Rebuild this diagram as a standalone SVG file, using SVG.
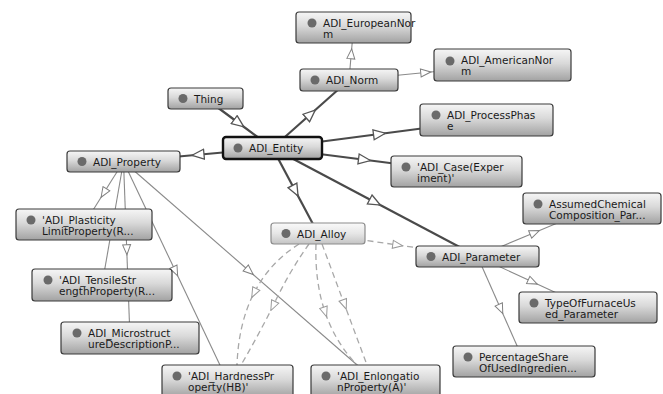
<svg xmlns="http://www.w3.org/2000/svg" width="663" height="394" viewBox="0 0 663 394">
<defs>
<linearGradient id="g" x1="0" y1="0" x2="0" y2="1">
<stop offset="0" stop-color="#f6f6f6"/>
<stop offset="0.45" stop-color="#d9d9d9"/>
<stop offset="1" stop-color="#a2a2a2"/>
</linearGradient>
<linearGradient id="gl" x1="0" y1="0" x2="0" y2="1">
<stop offset="0" stop-color="#fafafa"/>
<stop offset="0.5" stop-color="#e6e6e6"/>
<stop offset="1" stop-color="#c4c4c4"/>
</linearGradient>
<marker id="big" viewBox="0 0 14 12" markerWidth="14" markerHeight="12" refX="7" refY="6" orient="auto" markerUnits="userSpaceOnUse">
<path d="M1,1 L13,6 L1,11 Z" fill="#fff" stroke="#555" stroke-width="1.3"/>
</marker>
<marker id="small" viewBox="0 0 12 10" markerWidth="12" markerHeight="10" refX="6" refY="5" orient="auto" markerUnits="userSpaceOnUse">
<path d="M1,1 L11,5 L1,9 Z" fill="#fff" stroke="#808080" stroke-width="1"/>
</marker>
<marker id="dash" viewBox="0 0 12 10" markerWidth="12" markerHeight="10" refX="6" refY="5" orient="auto" markerUnits="userSpaceOnUse">
<path d="M1,1 L11,5 L1,9 Z" fill="#fff" stroke="#9a9a9a" stroke-width="1"/>
</marker>
</defs>
<style>
.thick{fill:none;stroke:#4a4a4a;stroke-width:2.2;marker-mid:url(#big)}
.thin{fill:none;stroke:#8a8a8a;stroke-width:1.1;marker-mid:url(#small)}
.dsh{fill:none;stroke:#a8a8a8;stroke-width:1.3;stroke-dasharray:6 4;marker-mid:url(#dash)}
.box{fill:url(#g);stroke:#3a3a3a;stroke-width:1.2}
.pale{fill:url(#gl);stroke:#8c8c8c;stroke-width:1.2}
.sel{fill:url(#g);stroke:#111;stroke-width:2.4}
.dot{fill:#6a6a6a}
text{font-family:"DejaVu Sans","Liberation Sans",sans-serif;font-size:10.5px;fill:#1a1a1a}
</style>
<rect width="663" height="394" fill="#fff"/>
<g id="connectors">
<path class="thick" d="M205.5,98.5 L239,123.25 L272.5,148"/>
<path class="thick" d="M272.5,148 L310.75,114 L349,80"/>
<path class="thick" d="M272.5,148 L379.5,134 L486.5,120"/>
<path class="thick" d="M272.5,148 L364.5,159.75 L456.5,171.5"/>
<path class="thick" d="M272.5,148 L198,154.75 L123.5,161.5"/>
<path class="thick" d="M272.5,148 L295.25,190.75 L318,233.5"/>
<path class="thick" d="M272.5,148 L375,202.25 L477.5,256.5"/>
<path class="thin" d="M349,80 L351.25,53.75 L353.5,27.5"/>
<path class="thin" d="M349,80 L425.75,72.5 L502.5,65"/>
<path class="thin" d="M123.5,161.5 L103.75,193 L84,224.5"/>
<path class="thin" d="M123.5,161.5 L112.75,223.25 L102,285"/>
<path class="thin" d="M123.5,161.5 L126.75,249.75 L130,338"/>
<path class="thin" d="M123.5,161.5 L175.5,271.25 L227.5,381"/>
<path class="thin" d="M123.5,161.5 L249.5,271.25 L375.5,381"/>
<path class="thin" d="M477.5,256.5 L534.75,232.5 L592,208.5"/>
<path class="thin" d="M477.5,256.5 L532.75,282 L588,307.5"/>
<path class="thin" d="M477.5,256.5 L500.75,309 L524,361.5"/>
<path class="dsh" d="M318,233.5 L397.75,245 L477.5,256.5"/>
<path class="dsh" d="M299,244 Q269.5,262.75 254,293 Q238.5,323.25 237,365"/>
<path class="dsh" d="M309,244 Q289,272 273,306 Q258,336 241,365"/>
<path class="dsh" d="M316,244 Q314.75,281.75 325,312 Q335.25,342.25 357,365"/>
<path class="dsh" d="M322,244 L344.5,304.5 L367,365"/>
</g>
<g id="n-european"><rect class="box" x="296" y="12" width="115" height="31" rx="3"/><circle class="dot" cx="312" cy="23" r="4.5"/><text x="323" y="27">ADI_EuropeanNor</text><text x="323" y="38">m</text></g>
<g id="n-norm"><rect class="box" x="300" y="69" width="98" height="22" rx="3"/><circle class="dot" cx="315" cy="80" r="4.5"/><text x="326" y="84">ADI_Norm</text></g>
<g id="n-american"><rect class="box" x="434" y="49" width="137" height="32" rx="3"/><circle class="dot" cx="450" cy="61" r="4.5"/><text x="461" y="64">ADI_AmericanNor</text><text x="461" y="75">m</text></g>
<g id="n-thing"><rect class="box" x="168" y="88" width="75" height="21" rx="3"/><circle class="dot" cx="183" cy="98.5" r="4.5"/><text x="194" y="102.5">Thing</text></g>
<g id="n-entity"><rect class="sel" x="223" y="137" width="99" height="22" rx="3"/><circle class="dot" cx="238" cy="148" r="4.5"/><text x="249" y="152">ADI_Entity</text></g>
<g id="n-process"><rect class="box" x="420" y="104" width="133" height="32" rx="3"/><circle class="dot" cx="436" cy="115" r="4.5"/><text x="447" y="119">ADI_ProcessPhas</text><text x="447" y="130">e</text></g>
<g id="n-case"><rect class="box" x="391" y="156" width="131" height="31" rx="3"/><circle class="dot" cx="406" cy="167" r="4.5"/><text x="417" y="171">'ADI_Case(Exper</text><text x="417" y="182">iment)'</text></g>
<g id="n-property"><rect class="box" x="67" y="151" width="113" height="21" rx="3"/><circle class="dot" cx="82" cy="161.5" r="4.5"/><text x="93" y="165.5">ADI_Property</text></g>
<g id="n-plasticity"><rect class="box" x="16" y="209" width="136" height="31" rx="3"/><circle class="dot" cx="31" cy="220" r="4.5"/><text x="42" y="224">'ADI_Plasticity</text><text x="42" y="235">LimitProperty(R...</text></g>
<g id="n-tensile"><rect class="box" x="32" y="269" width="140" height="32" rx="3"/><circle class="dot" cx="48" cy="280" r="4.5"/><text x="59" y="284">'ADI_TensileStr</text><text x="59" y="295">engthProperty(R...</text></g>
<g id="n-micro"><rect class="box" x="61" y="322" width="138" height="32" rx="3"/><circle class="dot" cx="77" cy="333" r="4.5"/><text x="88" y="337">ADI_Microstruct</text><text x="88" y="348">ureDescriptionP...</text></g>
<g id="n-hardness"><rect class="box" x="162" y="365" width="131" height="32" rx="3"/><circle class="dot" cx="177" cy="376" r="4.5"/><text x="188" y="380">'ADI_HardnessPr</text><text x="188" y="391">operty(HB)'</text></g>
<g id="n-enlongation"><rect class="box" x="311" y="365" width="129" height="32" rx="3"/><circle class="dot" cx="326" cy="376" r="4.5"/><text x="337" y="380">'ADI_Enlongatio</text><text x="337" y="391">nProperty(A)'</text></g>
<g id="n-alloy"><rect class="pale" x="271" y="223" width="94" height="21" rx="3"/><circle class="dot" cx="286" cy="233.5" r="4.5"/><text x="297" y="237.5">ADI_Alloy</text></g>
<g id="n-parameter"><rect class="box" x="416" y="246" width="123" height="21" rx="3"/><circle class="dot" cx="431" cy="256.5" r="4.5"/><text x="442" y="260.5">ADI_Parameter</text></g>
<g id="n-assumed"><rect class="box" x="523" y="193" width="138" height="31" rx="3"/><circle class="dot" cx="538" cy="204" r="4.5"/><text x="549" y="208">AssumedChemical</text><text x="549" y="219">Composition_Par...</text></g>
<g id="n-furnace"><rect class="box" x="519" y="292" width="138" height="31" rx="3"/><circle class="dot" cx="534" cy="303" r="4.5"/><text x="545" y="307">TypeOfFurnaceUs</text><text x="545" y="318">ed_Parameter</text></g>
<g id="n-percentage"><rect class="box" x="453" y="346" width="142" height="31" rx="3"/><circle class="dot" cx="468" cy="357" r="4.5"/><text x="479" y="361">PercentageShare</text><text x="479" y="372">OfUsedIngredien...</text></g>
</svg>
